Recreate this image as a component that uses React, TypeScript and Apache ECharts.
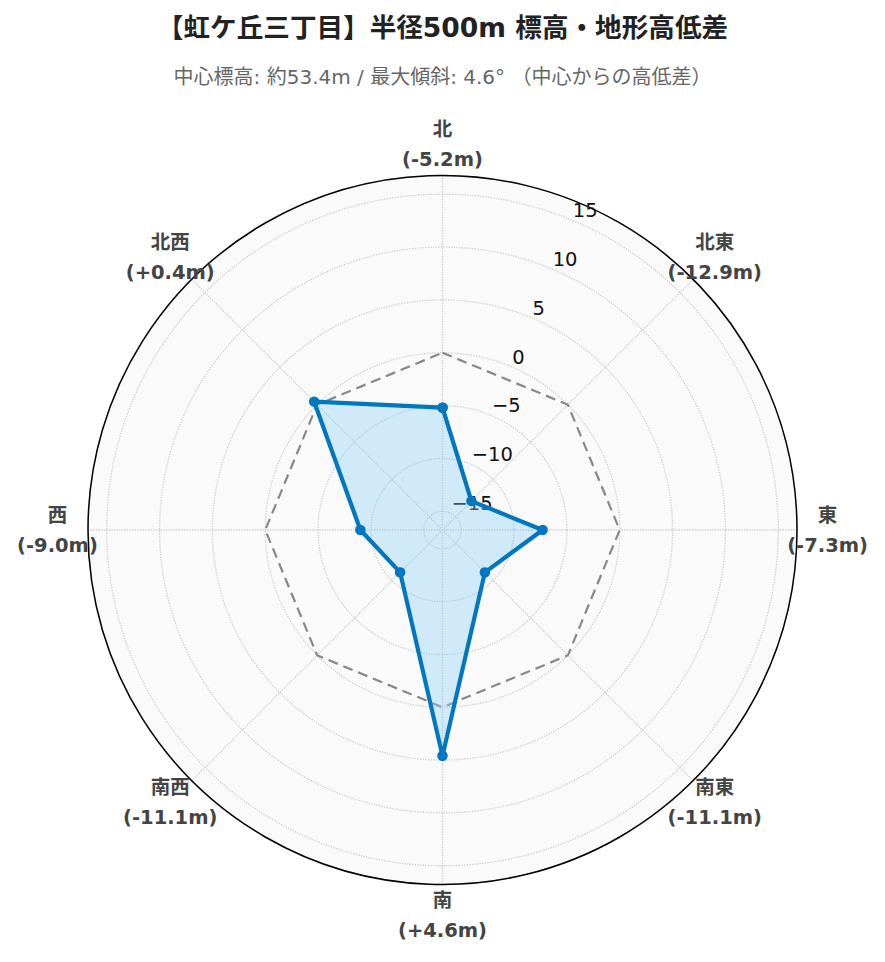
import React, { useEffect, useRef } from 'react';
import * as echarts from 'echarts';

// ---- data ----
const DIRECTIONS = ['北', '北東', '東', '南東', '南', '南西', '西', '北西'];
const ANGLES = [0, 45, 90, 135, 180, 225, 270, 315];
const DIFFS = [-5.2, -12.9, -7.3, -11.1, 4.6, -11.1, -9.0, 0.4];
const BASELINE = [0, 0, 0, 0, 0, 0, 0, 0];
const RADIAL_TICKS = [-15, -10, -5, 0, 5, 10, 15];
const TITLE = '【虹ケ丘三丁目】半径500m 標高・地形高低差';
const SUBTITLE = '中心標高: 約53.4m / 最大傾斜: 4.6° （中心からの高低差）';

// ---- layout ----
const R_MIN = -16.77;
const R_MAX = 16.77;
const LABEL_R = 19.66;
const CENTER = [442.5, 530];
const RADIUS = 354.5;

const LINE_COLOR = '#0077BE';
const FONT = '"DejaVu Sans", "Noto Sans CJK JP", sans-serif';

function signed(v: number): string {
  return (v > 0 ? '+' : '') + v.toFixed(1);
}

function tickFmt(v: number): string {
  const r = Math.round(v);
  if (Math.abs(v - r) > 1e-6 || RADIAL_TICKS.indexOf(r) < 0) return '';
  return r < 0 ? '\u2212' + Math.abs(r) : String(r);
}

function closed(vals: number[]): number[][] {
  const pts = vals.map((v, i) => [v, ANGLES[i]]);
  pts.push([vals[0], 360]);
  return pts;
}

export default function App() {
  const ref = useRef<HTMLDivElement>(null);

  useEffect(() => {
    document.body.style.margin = '0';
    document.body.style.overflow = 'hidden';
    if (!ref.current) return;
    const chart = echarts.init(ref.current, undefined, { renderer: 'svg' });
    const gridLine = { color: '#cccccc', width: 1.3, type: 'dotted' };
    const option: any = {
      animation: false,
      backgroundColor: '#ffffff',
      title: [
        {
          text: TITLE,
          left: 'center',
          top: 14,
          padding: 0,
          textStyle: {
            fontSize: 26.6,
            fontWeight: 'bold',
            color: '#222222',
            fontFamily: FONT,
          },
        },
        {
          text: SUBTITLE,
          left: 'center',
          top: 67,
          padding: 0,
          textStyle: {
            fontSize: 20,
            fontWeight: 'normal',
            color: '#666666',
            fontFamily: FONT,
          },
        },
      ],
      polar: [
        { center: CENTER, radius: RADIUS },
        { center: CENTER, radius: RADIUS },
      ],
      angleAxis: [
        {
          polarIndex: 0,
          type: 'value',
          min: 0,
          max: 360,
          interval: 45,
          startAngle: 90,
          clockwise: true,
          z: 1,
          axisLine: { show: true, lineStyle: { color: '#000000', width: 1.5 } },
          axisTick: { show: false },
          axisLabel: { show: false },
          splitLine: { show: true, lineStyle: gridLine },
        },
        {
          polarIndex: 1,
          type: 'value',
          min: 0,
          max: 360,
          interval: 45,
          startAngle: 67.5,
          clockwise: true,
          z: 0,
          axisLine: { show: false },
          axisTick: { show: false },
          axisLabel: { show: false },
          splitLine: { show: false },
        },
      ],
      radiusAxis: [
        {
          polarIndex: 0,
          type: 'value',
          min: R_MIN,
          max: R_MAX,
          z: 1,
          axisLine: { show: false },
          axisTick: { show: false },
          axisLabel: { show: false },
          splitLine: { show: true, lineStyle: gridLine },
          splitArea: { show: false },
        },
        {
          polarIndex: 1,
          type: 'value',
          min: R_MIN,
          max: R_MAX,
          z: 0,
          axisLine: { show: false },
          axisTick: { show: false },
          splitLine: { show: false },
          splitArea: { show: true, areaStyle: { color: ['#fafafa'] } },
          axisLabel: {
            show: true,
            formatter: tickFmt,
            align: 'left',
            verticalAlign: 'bottom',
            margin: -2,
            fontSize: 19.5,
            color: '#111111',
            fontFamily: '"DejaVu Sans", sans-serif',
          },
        },
      ],
      series: [
        {
          type: 'line',
          coordinateSystem: 'polar',
          polarIndex: 0,
          data: closed(BASELINE),
          symbol: 'none',
          silent: true,
          lineStyle: { color: '#888888', width: 2.2, type: [10, 6] },
          z: 2,
        },
        {
          type: 'line',
          coordinateSystem: 'polar',
          polarIndex: 0,
          data: closed(DIFFS),
          symbol: 'circle',
          symbolSize: 10.5,
          showAllSymbol: true,
          lineStyle: { color: LINE_COLOR, width: 4.2 },
          itemStyle: { color: LINE_COLOR },
          areaStyle: { color: 'rgba(135,206,250,0.36)', opacity: 1, origin: 'start' },
          z: 3,
        },
        {
          type: 'scatter',
          coordinateSystem: 'polar',
          polarIndex: 0,
          clip: false,
          silent: true,
          symbolSize: 1,
          itemStyle: { color: 'rgba(0,0,0,0)', opacity: 1 },
          data: DIRECTIONS.map((d, i) => ({ name: d, value: [LABEL_R, ANGLES[i]] })),
          label: {
            show: true,
            position: 'inside',
            align: 'center',
            verticalAlign: 'middle',
            formatter: (p: any) => `${p.name}\n(${signed(DIFFS[p.dataIndex])}m)`,
            fontSize: 19.5,
            fontWeight: 'bold',
            lineHeight: 30,
            opacity: 1,
            color: '#444444',
            fontFamily: FONT,
          },
          z: 4,
        },
      ],
    };
    chart.setOption(option);
    return () => chart.dispose();
  }, []);

  return <div ref={ref} style={{ width: 885, height: 962 }} />;
}
